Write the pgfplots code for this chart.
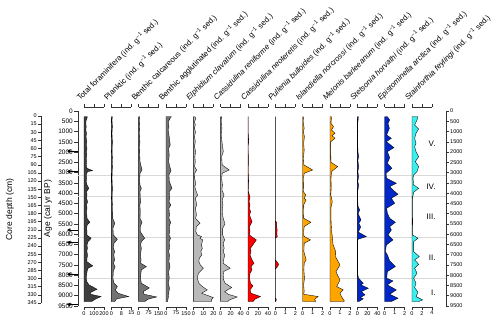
\documentclass[border=0pt]{standalone}
\usepackage{fontspec}
\setmainfont{Liberation Sans}
\usepackage{pgfplots}
\pgfplotsset{compat=1.18}
\usetikzlibrary{arrows.meta}

\definecolor{cTot}{RGB}{62,62,62}
\definecolor{cMid}{RGB}{115,115,115}
\definecolor{cLight}{RGB}{185,185,185}
\definecolor{cRed}{RGB}{255,0,0}
\definecolor{cOrange}{RGB}{255,165,0}
\definecolor{cBlue}{RGB}{0,40,200}
\definecolor{cCyan}{RGB}{60,238,238}

\newcommand{\indunit}{ (ind. g\textsuperscript{−1} sed.)}
\newcommand{\ptitle}[1]{\node[anchor=base west, rotate=45, inner sep=0pt, font=\fontsize{7.8}{8}\selectfont]
  at ([shift={(-4pt,6pt)}]axis description cs:0,1) {#1};}

\pgfplotsset{
  panel/.style={
    scale only axis, width=20pt, height=200pt, anchor=south west,
    ymin=-195, ymax=9549, y dir=reverse,
    axis y line=none, axis x line*=box, ytick=\empty,
    xtick pos=both, xticklabel pos=lower,
    tick align=outside, major tick length=3pt,
    axis line style={line width=0.5pt, black!80},
    every tick/.style={black!80, line width=0.5pt},
    xticklabel style={font=\fontsize{5.5}{6}\selectfont, inner sep=1pt},
    /pgf/number format/assume math mode=true,
    clip=false,
  },
  prof/.style={draw=black, line width=0.35pt, fill=#1},
  ageax/.style={
    scale only axis, width=368pt, height=195pt, at={(78pt,15pt)}, anchor=south west,
    xmin=0, xmax=1, ymin=0, ymax=9500, y dir=reverse,
    hide x axis, ytick={0,500,...,9500},
    tick align=outside,
    axis line style={line width=0.5pt, black!80},
    every tick/.style={black!80, line width=0.5pt},
    /pgf/number format/1000 sep={}, /pgf/number format/assume math mode=true,
    clip=false,
  },
}

\begin{document}
\begin{tikzpicture}
\useasboundingbox (0,0) rectangle (500pt,321pt);

% depth axis
\begin{axis}[scale only axis, width=1pt, height=187pt, at={(41pt,18pt)}, anchor=south west,
  xmin=0, xmax=1, ymin=0, ymax=345, y dir=reverse,
  hide x axis, axis y line*=left, ytick={0,15,...,345},
  tick align=outside, major tick length=3pt,
  axis line style={line width=0.5pt, black!80},
  every tick/.style={black!80, line width=0.5pt},
  yticklabel style={font=\fontsize{5.5}{6}\selectfont, inner sep=1pt},
  /pgf/number format/assume math mode=true, clip=false]
\node[rotate=90, font=\fontsize{8.5}{9}\selectfont] at ([xshift=-31pt]axis description cs:0,0.5) {Core depth (cm)};
\end{axis}

% age axis (left) with zone lines and dated levels
\begin{axis}[ageax, axis y line*=left, major tick length=4pt,
  yticklabel style={font=\fontsize{6.5}{7}\selectfont, inner sep=1pt}]
\addplot[gray!30, line width=0.7pt] coordinates {(0,3120) (1,3120)};
\addplot[gray!30, line width=0.7pt] coordinates {(0,4150) (1,4150)};
\addplot[gray!30, line width=0.7pt] coordinates {(0,6140) (1,6140)};
\addplot[gray!30, line width=0.7pt] coordinates {(0,8150) (1,8150)};
\addplot[black, line width=0.5pt, -{Triangle[length=3.5pt, width=3.5pt]}] coordinates {(0,1950) (-0.03,1950)};
\addplot[black, line width=0.5pt, -{Triangle[length=3.5pt, width=3.5pt]}] coordinates {(0,2950) (-0.03,2950)};
\addplot[black, line width=0.5pt, -{Triangle[length=3.5pt, width=3.5pt]}] coordinates {(0,5800) (-0.03,5800)};
\addplot[black, line width=0.5pt, -{Triangle[length=3.5pt, width=3.5pt]}] coordinates {(0,6400) (-0.03,6400)};
\addplot[black, line width=0.5pt, -{Triangle[length=3.5pt, width=3.5pt]}] coordinates {(0,7950) (-0.03,7950)};
\addplot[black, line width=0.5pt, -{Triangle[length=3.5pt, width=3.5pt]}] coordinates {(0,9420) (-0.03,9420)};
\node[rotate=90, font=\fontsize{8.5}{9}\selectfont] at ([xshift=-30pt]axis description cs:0,0.5) {Age (cal yr BP)};
\end{axis}

% age axis (right) with zones
\begin{axis}[ageax, axis y line*=right, major tick length=3pt,
  yticklabel style={font=\fontsize{5.5}{6}\selectfont, inner sep=1pt}]
\node[anchor=east, font=\fontsize{8}{9}\selectfont] at (axis cs:0.981,1575) {V.};
\node[anchor=east, font=\fontsize{8}{9}\selectfont] at (axis cs:0.981,3685) {IV.};
\node[anchor=east, font=\fontsize{8}{9}\selectfont] at (axis cs:0.981,5145) {III.};
\node[anchor=east, font=\fontsize{8}{9}\selectfont] at (axis cs:0.981,7160) {II.};
\node[anchor=east, font=\fontsize{8}{9}\selectfont] at (axis cs:0.981,8860) {I.};
\end{axis}

% 1 Total foraminifera
\begin{axis}[panel, at={(84pt,14pt)}, xmin=0, xmax=200, xtick={0,100,200}]
\addplot[prof=cTot] coordinates {(0,280) (33,280) (30,357) (22,438) (18,601) (22,763) (18,925) (25,1088) (20,1250) (28,1493) (22,1656) (30,1818) (24,1980) (28,2143) (22,2305) (26,2467) (22,2629) (30,2792) (85,2905) (35,2954) (22,3116) (26,3279) (22,3441) (30,3603) (48,3766) (26,3928) (30,4090) (25,4252) (36,4415) (26,4577) (30,4739) (24,4902) (28,5064) (30,5226) (58,5421) (32,5551) (26,5713) (30,5875) (28,6038) (72,6200) (40,6362) (30,6525) (34,6687) (28,6849) (36,7012) (30,7174) (28,7336) (88,7547) (40,7661) (30,7823) (26,7985) (24,8148) (28,8310) (50,8472) (130,8683) (70,8829) (65,8927) (170,9040) (120,9150) (75,9284) (0,9284)} -- cycle;
\ptitle{Total foraminifera\indunit}
\end{axis}

% 2 Planktic
\begin{axis}[panel, at={(111.33pt,14pt)}, xmin=0, xmax=15, xtick={0,7.5,15}, xticklabels={0,8,15}]
\addplot[prof=cMid] coordinates {(0,280) (0.8,280) (0.5,438) (0.8,763) (0.5,1088) (0.8,1493) (0.6,1980) (0.9,2467) (0.7,2905) (0.5,3279) (0.8,3766) (0.6,4252) (0.9,4739) (1.0,5226) (2.6,5470) (1.2,5713) (1.5,6038) (4.5,6250) (2.0,6443) (1.5,6687) (2.5,6849) (1.8,7012) (2.5,7255) (1.5,7417) (2.8,7580) (1.5,7823) (1.2,8148) (2.0,8391) (4.5,8553) (3.0,8716) (5.0,8878) (13,9040) (4,9150) (2.5,9284) (0,9284)} -- cycle;
\ptitle{Planktic\indunit}
\end{axis}

% 3 Benthic calcareous
\begin{axis}[panel, at={(138.67pt,14pt)}, xmin=0, xmax=150, xtick={0,75,150}]
\addplot[prof=cMid] coordinates {(0,280) (8,280) (6,438) (8,763) (6,1088) (9,1493) (7,1980) (10,2467) (25,2873) (10,3035) (8,3279) (9,3603) (20,3766) (10,3928) (12,4252) (15,4415) (9,4577) (12,4902) (10,5226) (25,5421) (12,5632) (12,5875) (45,6200) (20,6362) (15,6525) (20,6687) (14,7012) (18,7255) (15,7417) (58,7580) (20,7742) (15,7985) (14,8148) (20,8391) (80,8620) (35,8797) (40,8927) (135,9060) (70,9170) (45,9284) (0,9284)} -- cycle;
\ptitle{Benthic calcareous\indunit}
\end{axis}

% 4 Benthic agglutinated
\begin{axis}[panel, at={(166pt,14pt)}, xmin=0, xmax=150, xtick={0,75,150}]
\addplot[prof=cMid] coordinates {(0,280) (40,280) (30,357) (18,520) (22,763) (16,925) (22,1169) (32,1656) (20,1818) (24,2143) (20,2467) (28,2711) (38,2905) (22,3116) (25,3441) (45,3766) (24,3928) (28,4252) (22,4415) (36,4577) (22,4739) (26,5064) (22,5226) (35,5421) (24,5632) (28,5875) (22,6038) (34,6200) (24,6362) (26,6687) (20,6849) (26,7012) (22,7336) (30,7580) (20,7823) (24,8148) (18,8391) (26,8635) (20,8878) (18,9040) (12,9284) (0,9284)} -- cycle;
\ptitle{Benthic agglutinated\indunit}
\end{axis}

% 5 Elphidium clavatum
\begin{axis}[panel, at={(193.33pt,14pt)}, xmin=0, xmax=20, xtick={0,10,20}]
\addplot[prof=cLight] coordinates {(0,280) (1.5,280) (2.5,357) (1.2,520) (2,682) (1,844) (2.2,1006) (1.2,1250) (2,1493) (1.2,1737) (2.3,1980) (1.5,2224) (2,2467) (1.3,2711) (3.3,2873) (1.5,3035) (1.2,3279) (2.5,3522) (1.5,3684) (2.3,3847) (4.3,4090) (2,4252) (3.5,4577) (2,4739) (3.2,5064) (2.2,5226) (6.7,5470) (3,5632) (2.5,5875) (4,6038) (8.3,6119) (6.5,6200) (9.5,6281) (8,6525) (9,6687) (7.5,6849) (8.5,7012) (6,7174) (5.5,7336) (7,7498) (10,7661) (5,7904) (4,8148) (5.5,8391) (9,8553) (14,8716) (8.3,8878) (20,9089) (18,9200) (18,9284) (0,9284)} -- cycle;
\ptitle{\textit{Elphidium clavatum}\indunit}
\end{axis}

% 6 Cassidulina reniforme
\begin{axis}[panel, at={(220.67pt,14pt)}, xmin=0, xmax=40, xtick={0,20,40}]
\addplot[prof=cLight] coordinates {(0,280) (2,280) (1.5,520) (2.5,844) (1.5,1169) (2.5,1493) (5.3,1980) (2,2224) (3,2629) (17,2873) (3,3035) (2,3279) (3.5,3603) (2.5,3847) (6.7,4090) (3,4334) (4.5,4577) (3,4902) (5,5226) (8.7,5502) (4,5713) (4,6038) (8,6281) (5,6443) (7,6687) (5,6849) (8,7012) (6,7255) (5,7417) (19,7661) (6,7823) (5,7985) (6,8229) (9,8391) (22,8602) (8,8797) (15,8927) (33,9060) (18,9200) (14,9284) (0,9284)} -- cycle;
\ptitle{\textit{Cassidulina reniforme}\indunit}
\end{axis}

% 7 Cassidulina neoteretis
\begin{axis}[panel, at={(248pt,14pt)}, xmin=0, xmax=40, xtick={0,20,40}]
\addplot[prof=cRed] coordinates {(0,280) (0.5,280) (0.3,1000) (1.5,1490) (0.3,1700) (0.8,2300) (0.5,3000) (1.2,3400) (0.5,3900) (4,4200) (2,4415) (4,4577) (2.5,4739) (5.3,4902) (3,5064) (8,5389) (3,5632) (4,5875) (2.5,6038) (16.7,6281) (12,6443) (5,6687) (6,6849) (4,7012) (8,7255) (12,7420) (6,7580) (8,7742) (4,7904) (3,8148) (5,8391) (10,8520) (4,8716) (6,8878) (25,9040) (14,9170) (10,9284) (0,9284)} -- cycle;
\ptitle{\textit{Cassidulina neoteretis}\indunit}
\end{axis}

% 8 Pullenia bulloides
\begin{axis}[panel, at={(275.33pt,14pt)}, xmin=0, xmax=2, xtick={0,1,2}]
\addplot[prof=cRed] coordinates {(0,280) (0,5350) (0.15,5440) (0.12,5600) (0.18,5800) (0.15,6000) (0.2,6120) (0,6200) (0,7250) (0.25,7400) (0.33,7480) (0.2,7600) (0,7700) (0,9100) (0.1,9180) (0.05,9284) (0,9284)} -- cycle;
\ptitle{\textit{Pullenia bulloides}\indunit}
\end{axis}

% 9 Islandiella norcrossi
\begin{axis}[panel, at={(302.67pt,14pt)}, xmin=0, xmax=2, xtick={0,1,2}]
\addplot[prof=cOrange] coordinates {(0,280) (0.08,280) (0.05,520) (0.15,844) (0.08,1006) (0.17,1250) (0.1,1574) (0.15,1900) (0.08,2300) (0.12,2629) (1.0,2873) (0.15,3035) (0.08,3279) (0.1,3684) (0.07,3928) (0.3,4090) (0.15,4252) (0.35,4334) (0.1,4577) (0.08,4902) (0.1,5226) (0.82,5421) (0.15,5632) (0.1,5875) (0.12,6100) (0.78,6281) (0.15,6443) (0.12,6849) (0.35,7255) (0.15,7420) (0.12,7742) (0.18,8148) (0.1,8472) (0.15,8797) (0.1,8927) (1.55,9040) (1.2,9170) (1.3,9284) (0,9284)} -- cycle;
\ptitle{\textit{Islandiella norcrossi}\indunit}
\end{axis}

% 10 Melonis barleeanum
\begin{axis}[panel, at={(330pt,14pt)}, xmin=0, xmax=2, xtick={0,1,2}]
\addplot[prof=cOrange] coordinates {(0,280) (0.15,280) (0.1,600) (0.35,763) (0.15,925) (0.5,1088) (0.2,1200) (0.5,1331) (0.08,1493) (0.07,2000) (0.1,2500) (0.77,2711) (0.15,2954) (0.1,3279) (0.12,3766) (0.08,4090) (0.23,4415) (0.1,4700) (0.1,5300) (0.15,5800) (0.25,6200) (0.3,6500) (0.57,6849) (0.55,7100) (1.0,7498) (0.6,7823) (0.75,8000) (1.0,8229) (0.67,8553) (1.33,8716) (1.0,8878) (1.15,9040) (1.43,9251) (1.4,9284) (0,9284)} -- cycle;
\ptitle{\textit{Melonis barleeanum}\indunit}
\end{axis}

% 11 Stetsonia horvathi
\begin{axis}[panel, at={(357.33pt,14pt)}, xmin=0, xmax=40, xtick={0,20,40}]
\addplot[prof=cBlue] coordinates {(0,280) (2,280) (1.5,438) (0.7,601) (1,1000) (0.7,1500) (1.2,2000) (2.7,2224) (1,2400) (2.7,2711) (1,2954) (2.5,3200) (0.8,3441) (2.7,3603) (0.8,3900) (0.7,4400) (1.5,4650) (4.7,4820) (1.5,5000) (7.3,5307) (3,5470) (6.7,5650) (2,5900) (18,6119) (1,6250) (0.7,6600) (0.8,7200) (0.7,7800) (1,8000) (2.5,8148) (12,8391) (7,8470) (22,8635) (8,8797) (15.3,8959) (6,9089) (12,9150) (3,9284) (0,9284)} -- cycle;
\ptitle{\textit{Stetsonia horvathi}\indunit}
\end{axis}

% 12 Epistominella arctica
\begin{axis}[panel, at={(384.67pt,14pt)}, xmin=0, xmax=2, xtick={0,1,2}]
\addplot[prof=cBlue] coordinates {(0,280) (0.27,280) (0.5,438) (0.33,601) (0.47,844) (0.2,1169) (0.67,1331) (0.17,1493) (0.93,1785) (0.27,1980) (0.5,2272) (0.27,2548) (0.73,2792) (0.13,3035) (0.2,3279) (1.17,3522) (0.5,3684) (0.83,3847) (1.33,4058) (0.67,4252) (1.0,4496) (0.2,4739) (0.27,4983) (0.5,5226) (1.07,5421) (0.5,5632) (0.67,5794) (0.33,6038) (0.83,6281) (0.17,6525) (0.07,6849) (0.27,7012) (0.5,7300) (1.07,7580) (0.27,7823) (0.2,8148) (0.83,8277) (0.27,8472) (1.17,8716) (0.5,8927) (1.33,9121) (0.67,9284) (0,9284)} -- cycle;
\ptitle{\textit{Epistominella arctica}\indunit}
\end{axis}

% 13 Stainforthia feylingi
\begin{axis}[panel, at={(412pt,14pt)}, xmin=0, xmax=4, xtick={0,2,4}]
\addplot[prof=cCyan] coordinates {(0,280) (1.2,280) (1.0,438) (0.53,682) (1.33,877) (0.8,1088) (0.53,1331) (0.8,1574) (0.53,1737) (0.8,1980) (1.33,2224) (0.67,2467) (1.33,2711) (1.0,2954) (0.33,3116) (0.2,3279) (0.33,3603) (1.33,3766) (0.33,3960) (0.1,4252) (0.07,4800) (0.13,5400) (0.07,5900) (0.1,6038) (1.2,6200) (0.33,6362) (0.33,6849) (1.47,7093) (0.53,7255) (1.33,7466) (0.53,7661) (1.0,7904) (0.33,8148) (0.8,8391) (0.53,8602) (1.2,8829) (0.8,9040) (2.13,9203) (1.33,9284) (0,9284)} -- cycle;
\ptitle{\textit{Stainforthia feylingi}\indunit}
\end{axis}

\end{tikzpicture}
\end{document}
